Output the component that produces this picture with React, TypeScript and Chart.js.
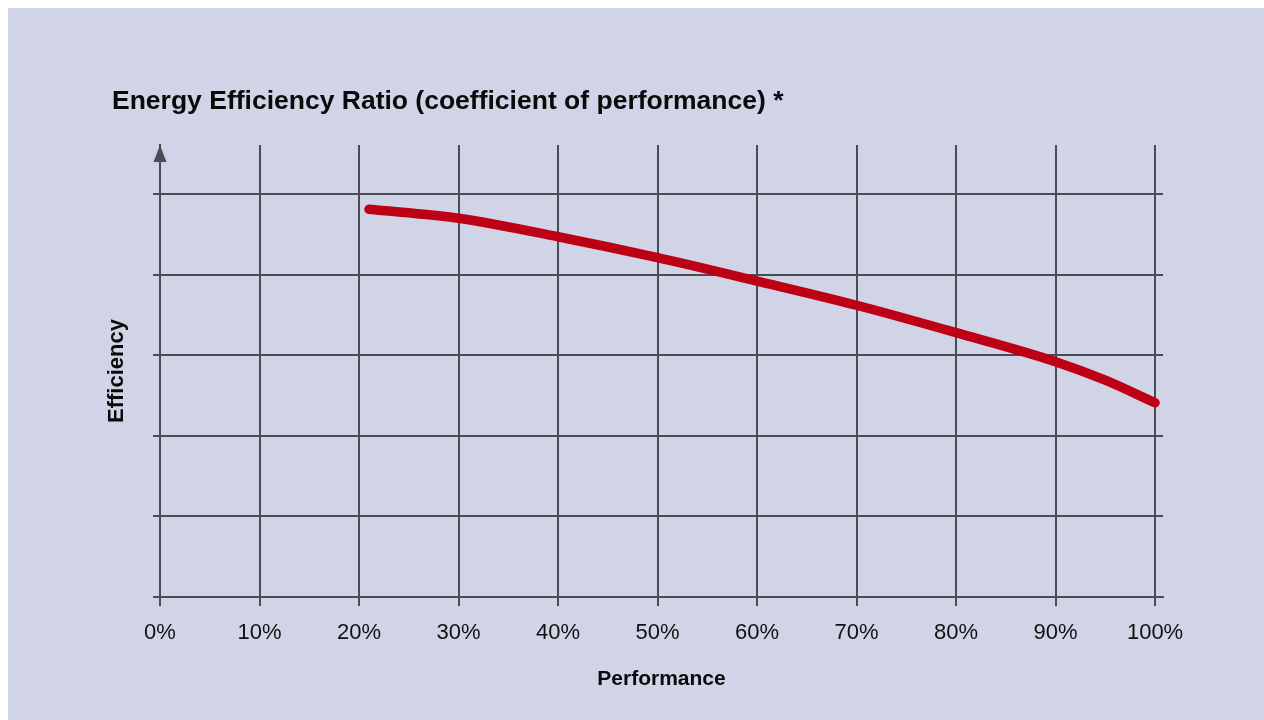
import React, { useEffect, useRef } from "react";
import { Chart, registerables } from "chart.js";

Chart.register(...registerables);

const titleText = "Energy Efficiency Ratio (coefficient of performance) *";
const xAxisTitle = "Performance";
const yAxisTitle = "Efficiency";
const performancePct = [21, 30, 40, 50, 60, 70, 80, 90, 95, 100];
const efficiencyValues = [4.81, 4.7, 4.47, 4.21, 3.92, 3.62, 3.28, 2.92, 2.69, 2.41];
const xTicks = [0, 10, 20, 30, 40, 50, 60, 70, 80, 90, 100];
const yTicks = [0, 1, 2, 3, 4, 5];

const BG = "#d0d4e6";
const GRID = "#4a4b53";
const RED = "#bd0015";
const FONT = "'Liberation Sans', Arial, Helvetica, sans-serif";

const arrowPlugin = {
  id: "axisArrow",
  afterDraw(chart: any) {
    const { ctx, chartArea } = chart;
    const x = chartArea.left;
    const y = chartArea.top;
    ctx.save();
    ctx.fillStyle = GRID;
    ctx.beginPath();
    ctx.moveTo(x, y);
    ctx.lineTo(x - 6.5, y + 17);
    ctx.lineTo(x + 6.5, y + 17);
    ctx.closePath();
    ctx.fill();
    ctx.restore();
  },
};

export default function App() {
  const canvasRef = useRef<HTMLCanvasElement | null>(null);

  useEffect(() => {
    document.documentElement.style.overflow = "hidden";
    const canvas = canvasRef.current;
    if (!canvas) return;
    const chart = new Chart(canvas, {
      type: "line",
      data: {
        datasets: [
          {
            data: performancePct.map((x, i) => ({ x, y: efficiencyValues[i] })),
            borderColor: RED,
            borderWidth: 9.5,
            borderCapStyle: "round",
            borderJoinStyle: "round",
            cubicInterpolationMode: "monotone",
            pointRadius: 0,
            fill: false,
          },
        ],
      },
      options: {
        animation: false,
        responsive: true,
        maintainAspectRatio: false,
        layout: { padding: { left: 104, right: 101, top: 0, bottom: 28 } },
        plugins: {
          legend: { display: false },
          tooltip: { enabled: false },
          title: {
            display: true,
            text: titleText,
            align: "start",
            color: "#0a0a0a",
            font: { family: FONT, size: 26.5, weight: "bold", lineHeight: 1.2 },
            padding: { top: 78.1, bottom: 27.1 },
          },
        },
        scales: {
          x: {
            type: "linear",
            min: 0,
            max: 100.8,
            afterBuildTicks: (scale: any) => {
              scale.ticks = xTicks.map((v) => ({ value: v }));
            },
            afterFit: (scale: any) => {
              scale.height = 95;
            },
            grid: {
              color: GRID,
              lineWidth: 2,
              drawTicks: true,
              tickLength: 9,
            },
            border: { color: GRID, width: 2 },
            ticks: {
              color: "#111111",
              font: { family: FONT, size: 22 },
              padding: 14,
              maxRotation: 0,
              callback: (v: any) => v + "%",
            },
            title: {
              display: true,
              text: xAxisTitle,
              color: "#0a0a0a",
              font: { family: FONT, size: 21, weight: "bold", lineHeight: 1.2 },
              padding: { top: 0, bottom: 0 },
            },
          },
          y: {
            type: "linear",
            min: 0,
            max: 5.608,
            afterBuildTicks: (scale: any) => {
              scale.ticks = yTicks.map((v) => ({ value: v }));
            },
            afterFit: (scale: any) => {
              scale.width = 48;
            },
            grid: {
              color: GRID,
              lineWidth: 2,
              drawTicks: true,
              tickLength: 7,
            },
            border: { color: GRID, width: 2 },
            ticks: { display: false },
            title: {
              display: true,
              text: yAxisTitle,
              color: "#0a0a0a",
              font: { family: FONT, size: 22, weight: "bold", lineHeight: 1 },
              padding: { top: -6, bottom: 0 },
            },
          },
        },
      },
      plugins: [arrowPlugin],
    } as any);
    return () => chart.destroy();
  }, []);

  return (
    <div
      style={{
        position: "absolute",
        left: 8,
        top: 8,
        right: 0,
        bottom: 0,
        background: BG,
      }}
    >
      <canvas ref={canvasRef} />
    </div>
  );
}
